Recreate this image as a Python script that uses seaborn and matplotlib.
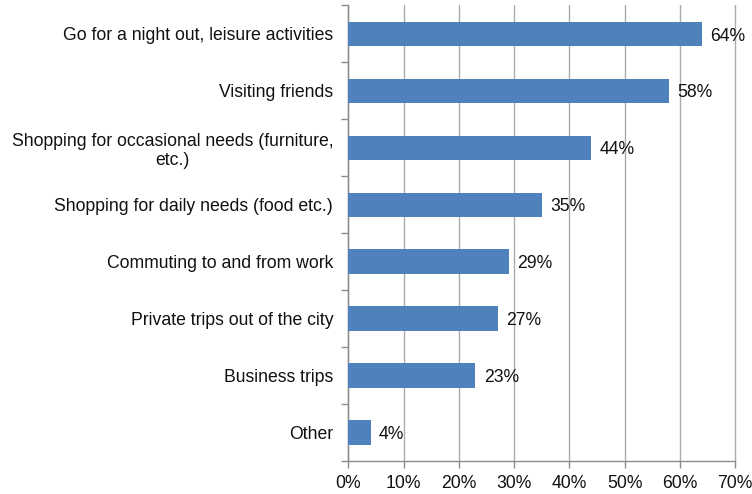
import matplotlib
matplotlib.use("Agg")
import matplotlib.pyplot as plt
import seaborn as sns
import pandas as pd
import numpy as np
from matplotlib.ticker import FixedLocator

categories = [
    "Go for a night out, leisure activities",
    "Visiting friends",
    "Shopping for occasional needs (furniture,\netc.)",
    "Shopping for daily needs (food etc.)",
    "Commuting to and from work",
    "Private trips out of the city",
    "Business trips",
    "Other",
]
values = [64, 58, 44, 35, 29, 27, 23, 4]
x_ticks = [0, 10, 20, 30, 40, 50, 60, 70]

sns.set_style("white")
plt.rcParams["font.family"] = ["Liberation Sans", "DejaVu Sans"]
FS = 12.7
plt.rcParams["font.size"] = FS

df = pd.DataFrame({"category": categories, "value": values})

fig = plt.figure(figsize=(7.52, 4.94), dpi=100)
ax = fig.add_axes([0.4634, 0.0668, 0.9774 - 0.4634, 0.9889 - 0.0668])

sns.barplot(data=df, x="value", y="category", orient="h", color="#4F81BD",
            saturation=1, width=0.43, linewidth=0, ax=ax, zorder=3)

ax.set_xlim(0, 70)
ax.set_ylim(len(categories) - 0.5, -0.5)
ax.set_xticks(x_ticks)
ax.set_xticklabels([f"{t}%" for t in x_ticks], fontsize=FS, color="#111111")
ax.xaxis.grid(True, color="#ABABAB", linewidth=1.0, zorder=0)
for gl in ax.get_xgridlines():
    gl.set_clip_on(False)
ax.yaxis.grid(False)
ax.set_axisbelow(True)

# category labels centred on bars, boundary ticks between categories
ax.set_yticks(range(len(categories)))
ax.set_yticklabels(categories, fontsize=FS, color="#111111")
for lbl in ax.get_yticklabels():
    lbl.set_multialignment("center")
ax.yaxis.set_minor_locator(FixedLocator(np.arange(-0.5, len(categories), 1.0)))
ax.tick_params(axis="y", which="major", left=True, length=0, pad=11)
ax.tick_params(axis="y", which="minor", left=True, length=5, width=1,
               color="#8C8C8C", direction="out")
ax.tick_params(axis="x", which="major", bottom=True, length=5, width=1,
               color="#8C8C8C", direction="out", pad=5)

for side in ["top", "right"]:
    ax.spines[side].set_visible(False)
for side in ["left", "bottom"]:
    ax.spines[side].set_color("#8C8C8C")
    ax.spines[side].set_linewidth(1.0)

ax.set_xlabel("")
ax.set_ylabel("")

for i, v in enumerate(values):
    ax.annotate(f"{v}%", (v, i), xytext=(6, -1.5), textcoords="offset points",
                va="center", ha="left", fontsize=FS, color="#111111")

fig.savefig("out.png", dpi=100)
